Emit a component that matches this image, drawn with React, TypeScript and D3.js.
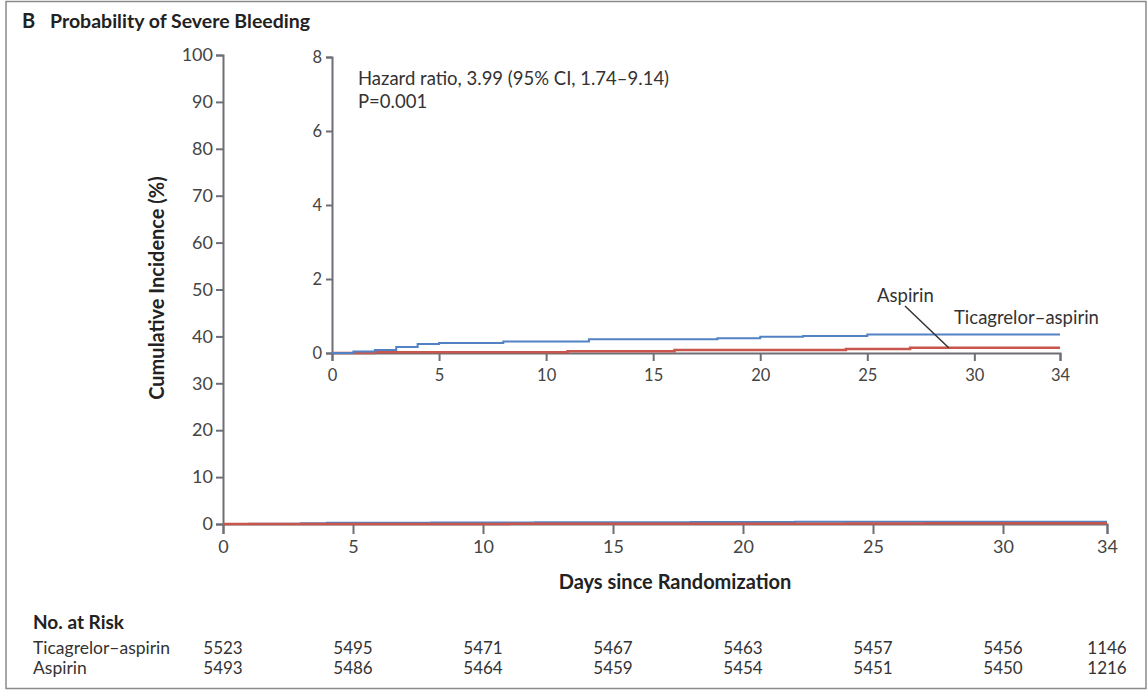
import * as d3 from 'd3';
import React, { useRef, useEffect } from 'react';

// cumulative incidence (%) of severe bleeding, step points
const ticDays = [0, 1, 2, 3, 4, 5, 8, 12, 18, 20, 22, 25, 34];
const ticVals = [0, 0.04, 0.08, 0.16, 0.24, 0.27, 0.31, 0.37, 0.4, 0.44, 0.46, 0.5, 0.5];
const aspDays = [0, 2, 11, 16, 24, 27, 34];
const aspVals = [0, 0.02, 0.05, 0.08, 0.11, 0.14, 0.14];

const xTicks = [0, 5, 10, 15, 20, 25, 30, 34];
const mainYTicks = [0, 10, 20, 30, 40, 50, 60, 70, 80, 90, 100];
const insetYTicks = [0, 2, 4, 6, 8];

const riskGroups = ['Ticagrelor–aspirin', 'Aspirin'];
const riskTic = [5523, 5495, 5471, 5467, 5463, 5457, 5456, 1146];
const riskAsp = [5493, 5486, 5464, 5459, 5454, 5451, 5450, 1216];

const BLUE = '#5282c4';
const RED = '#c8564c';
const AXIS = '#6e6e76';
const FONT = 'Lato, "Open Sans", sans-serif';

function App() {
    const ref = useRef();

    useEffect(() => {
        document.body.style.margin = '0';
        let svg = d3.select(ref.current);
        svg.selectAll('*').remove();
        draw(svg);
    }, []);

    const draw = (svg) => {
        let x = d3.scaleLinear().domain([0, 34]).range([223, 1107]);
        let y = d3.scaleLinear().domain([0, 100]).range([524, 55]);
        let xi = d3.scaleLinear().domain([0, 34]).range([332, 1060]);
        let yi = d3.scaleLinear().domain([0, 8]).range([353, 57]);

        // frame
        svg.append('rect')
            .attr('x', 6).attr('y', 1.5).attr('width', 1140).attr('height', 687)
            .attr('fill', 'none').attr('stroke', '#8a8a8a').attr('stroke-width', 1.5);

        svg.append('text').attr('x', 22).attr('y', 28)
            .attr('font-family', FONT).attr('font-weight', 'bold').attr('font-size', 20)
            .attr('fill', '#222').text('B');
        svg.append('text').attr('x', 50).attr('y', 28)
            .attr('font-family', FONT).attr('font-weight', 'bold').attr('font-size', 19.5)
            .attr('fill', '#222').text('Probability of Severe Bleeding');

        const styleAxis = (size) => (g) => {
            g.attr('font-family', FONT).attr('font-size', size);
            g.selectAll('path').attr('stroke', AXIS).attr('stroke-width', 2);
            g.selectAll('line').attr('stroke', AXIS).attr('stroke-width', 2);
            g.selectAll('text').attr('fill', '#444');
        };

        const series = [
            { days: ticDays, vals: ticVals, color: BLUE, w: 2 },
            { days: aspDays, vals: aspVals, color: RED, w: 2.5 },
        ];

        // main panel
        svg.append('g').attr('transform', 'translate(223,0)')
            .call(d3.axisLeft(y).tickValues(mainYTicks).tickSize(7).tickPadding(3))
            .call(styleAxis(18));
        svg.append('g').attr('transform', 'translate(0,524)')
            .call(d3.axisBottom(x).tickValues(xTicks).tickSize(10).tickPadding(6))
            .call(styleAxis(18));

        series.forEach((s) => {
            let line = d3.line().curve(d3.curveStepAfter)
                .x((d) => x(d)).y((d, i) => y(s.vals[i]));
            svg.append('path').attr('d', line(s.days))
                .attr('fill', 'none').attr('stroke', s.color).attr('stroke-width', s.w);
        });

        svg.append('text')
            .attr('transform', 'translate(164,288) rotate(-90)')
            .attr('text-anchor', 'middle')
            .attr('font-family', FONT).attr('font-weight', 'bold').attr('font-size', 20)
            .attr('fill', '#222').text('Cumulative Incidence (%)');
        svg.append('text')
            .attr('x', 675).attr('y', 589).attr('text-anchor', 'middle')
            .attr('font-family', FONT).attr('font-weight', 'bold').attr('font-size', 20)
            .attr('fill', '#222').text('Days since Randomization');

        // inset
        svg.append('g').attr('transform', 'translate(332,0)')
            .call(d3.axisLeft(yi).tickValues(insetYTicks).tickSize(6).tickPadding(4))
            .call(styleAxis(16.5));
        svg.append('g').attr('transform', 'translate(0,353)')
            .call(d3.axisBottom(xi).tickValues(xTicks).tickSize(8).tickPadding(8))
            .call(styleAxis(16.5));

        series.slice().reverse().forEach((s) => {
            let line = d3.line().curve(d3.curveStepAfter)
                .x((d) => xi(d)).y((d, i) => yi(s.vals[i]));
            svg.append('path').attr('d', line(s.days))
                .attr('fill', 'none').attr('stroke', s.color).attr('stroke-width', s.w);
        });

        svg.append('text').attr('x', 358).attr('y', 85)
            .attr('font-family', FONT).attr('font-size', 18.5).attr('fill', '#333')
            .text('Hazard ratio, 3.99 (95% CI, 1.74–9.14)');
        svg.append('text').attr('x', 358).attr('y', 108)
            .attr('font-family', FONT).attr('font-size', 18.5).attr('fill', '#333')
            .text('P=0.001');

        svg.append('text').attr('x', 877).attr('y', 302)
            .attr('font-family', FONT).attr('font-size', 18.5).attr('fill', '#333')
            .text('Aspirin');
        svg.append('line')
            .attr('x1', 905).attr('y1', 306)
            .attr('x2', xi(28.8)).attr('y2', yi(aspVals[5]))
            .attr('stroke', '#333').attr('stroke-width', 1.5);
        svg.append('text').attr('x', 954).attr('y', 324)
            .attr('font-family', FONT).attr('font-size', 18.5).attr('fill', '#333')
            .text('Ticagrelor–aspirin');

        // number at risk
        svg.append('text').attr('x', 33).attr('y', 629)
            .attr('font-family', FONT).attr('font-weight', 'bold').attr('font-size', 19)
            .attr('fill', '#222').text('No. at Risk');
        [riskTic, riskAsp].forEach((row, r) => {
            let yy = 654 + r * 20;
            svg.append('text').attr('x', 33).attr('y', yy)
                .attr('font-family', FONT).attr('font-size', 17.5).attr('fill', '#333')
                .text(riskGroups[r]);
            svg.selectAll('.risk' + r)
                .data(row)
                .enter()
                .append('text')
                .attr('x', (d, i) => x(xTicks[i]))
                .attr('y', yy)
                .attr('text-anchor', 'middle')
                .attr('font-family', FONT).attr('font-size', 17).attr('fill', '#333')
                .text((d) => d);
        });
    };

    return (
        <svg ref={ref} width={1148} height={691} style={{ display: 'block', background: '#fff' }}>
        </svg>
    );
}

export default App;
